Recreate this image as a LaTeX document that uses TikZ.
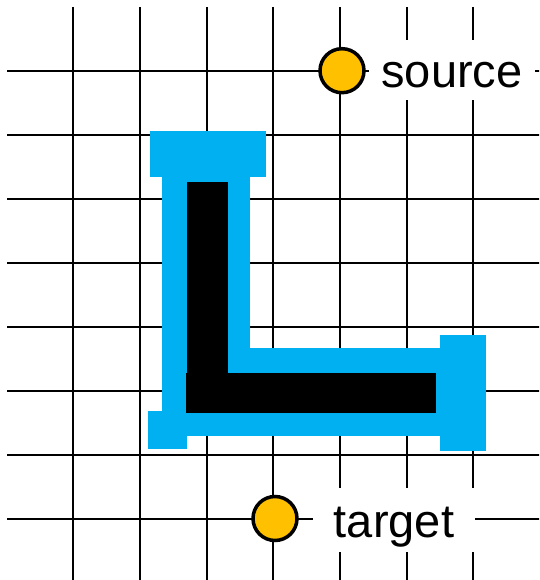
\documentclass[tikz,border=0pt]{standalone}
\usepackage{fontspec}
\setmainfont{Liberation Sans}
\definecolor{routeblue}{HTML}{00B0F0}
\definecolor{pinorange}{HTML}{FFC000}
\begin{document}
\begin{tikzpicture}[x=1pt,y=-1pt,
  gridline/.style={line width=2.3pt,black},
  pin/.style={circle,draw=black,line width=3.5pt,fill=pinorange,minimum size=44pt,inner sep=0pt},
  tag/.style={fill=white,font=\fontsize{47}{50}\selectfont,text height=35pt,text depth=0pt,inner sep=0pt},
  halo/.style={fill=routeblue},
  core/.style={fill=black}]
\useasboundingbox (0,0) rectangle (539,580);
\clip (0,0) rectangle (539,580);
% grid
\foreach \k in {0,...,7} \draw[gridline] (7,{70.7+64*\k}) -- (545,{70.7+64*\k});
\foreach \k in {0,...,6} \draw[gridline] ({73.33+66.667*\k},7) -- ({73.33+66.667*\k},590);
% blue route halo
\fill[halo] (162,176.7) rectangle (250,435.7);
\fill[halo] (162,347.7) rectangle (440,435.7);
\fill[halo] (150,131) rectangle (266,176.7);
\fill[halo] (440,335) rectangle (486,451);
\fill[halo] (148,411) rectangle (187,448.7);
% black route core
\fill[core] (187,182) rectangle (228,413.3);
\fill[core] (186,372.7) rectangle (436,413.3);
% pins and labels
\node[pin] (src) at (342,70.7) {};
\node[pin] (tgt) at (275,518.5) {};
\node[tag,minimum width=166pt,minimum height=60pt] (srclabel) at (452,70) {source};
\node[tag,minimum width=162pt,minimum height=64pt] (tgtlabel) at (394,520) {target};
\end{tikzpicture}
\end{document}
